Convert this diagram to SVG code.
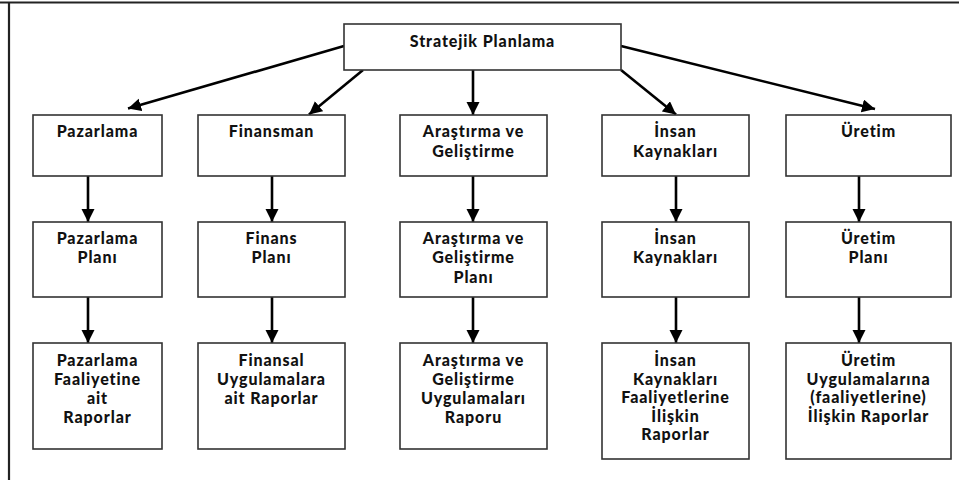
<svg xmlns="http://www.w3.org/2000/svg" width="959" height="480" viewBox="0 0 959 480">
<style>
.box{fill:#fff;stroke:#333;stroke-width:1.6}
.frame{stroke:#222;stroke-width:2.2;fill:none}
.t{font-family:Lato,"Open Sans","Liberation Sans",sans-serif;font-weight:900;font-size:16px;letter-spacing:0.9px;fill:#111;text-anchor:middle}
.c{stroke:#000;stroke-width:2.6;fill:none;marker-end:url(#ah)}
</style>
<defs>
<marker id="ah" markerUnits="userSpaceOnUse" markerWidth="14" markerHeight="14" refX="13" refY="6.5" orient="auto" viewBox="0 0 14 14">
<path d="M0,0 L13,6.5 L0,13 z" fill="#000"/>
</marker>
</defs>
<rect width="959" height="480" fill="#fff"/>
<path class="frame" d="M0,2.5 H959 M9,2.5 V480"/>
<g id="connectors">
<line class="c" x1="344" y1="46" x2="128" y2="108.5"/>
<line class="c" x1="363" y1="70" x2="309" y2="114.5"/>
<line class="c" x1="473" y1="70" x2="473" y2="115"/>
<line class="c" x1="621" y1="70" x2="676" y2="114.5"/>
<line class="c" x1="621" y1="46" x2="875" y2="109"/>
<line class="c" x1="88" y1="176" x2="88" y2="222"/>
<line class="c" x1="272" y1="176" x2="272" y2="222"/>
<line class="c" x1="473" y1="176" x2="473" y2="222"/>
<line class="c" x1="676" y1="176" x2="676" y2="222"/>
<line class="c" x1="859" y1="176" x2="859" y2="222"/>
<line class="c" x1="88" y1="297" x2="88" y2="343"/>
<line class="c" x1="272" y1="297" x2="272" y2="343"/>
<line class="c" x1="473" y1="297" x2="473" y2="343"/>
<line class="c" x1="676" y1="297" x2="676" y2="343"/>
<line class="c" x1="859" y1="297" x2="859" y2="343"/>
</g>
<g id="strateji"><rect class="box" x="344" y="24" width="277" height="46"/><text class="t" x="482.5" y="47">Stratejik Planlama</text></g>
<g id="pazarlama"><rect class="box" x="33" y="115" width="129" height="61"/><text class="t" x="97.5" y="137">Pazarlama</text></g>
<g id="finansman"><rect class="box" x="198" y="115" width="147" height="61"/><text class="t" x="271.5" y="137">Finansman</text></g>
<g id="arge"><rect class="box" x="400" y="115" width="147" height="61"/><text class="t" x="473.5" y="137">Araştırma ve</text><text class="t" x="473.5" y="156.5">Geliştirme</text></g>
<g id="insan"><rect class="box" x="602" y="115" width="147" height="61"/><text class="t" x="675.5" y="137">İnsan</text><text class="t" x="675.5" y="156.5">Kaynakları</text></g>
<g id="uretim"><rect class="box" x="786" y="115" width="165" height="61"/><text class="t" x="868.5" y="137">Üretim</text></g>

<g id="pazarlama-plan"><rect class="box" x="33" y="222" width="129" height="75"/><text class="t" x="97.5" y="243.5">Pazarlama</text><text class="t" x="97.5" y="263">Planı</text></g>
<g id="finans-plan"><rect class="box" x="198" y="222" width="147" height="75"/><text class="t" x="271.5" y="243.5">Finans</text><text class="t" x="271.5" y="263">Planı</text></g>
<g id="arge-plan"><rect class="box" x="400" y="222" width="147" height="75"/><text class="t" x="473.5" y="243.5">Araştırma ve</text><text class="t" x="473.5" y="263">Geliştirme</text><text class="t" x="473.5" y="282.5">Planı</text></g>
<g id="insan-plan"><rect class="box" x="602" y="222" width="147" height="75"/><text class="t" x="675.5" y="243.5">İnsan</text><text class="t" x="675.5" y="263">Kaynakları</text></g>
<g id="uretim-plan"><rect class="box" x="786" y="222" width="165" height="75"/><text class="t" x="868.5" y="243.5">Üretim</text><text class="t" x="868.5" y="263">Planı</text></g>

<g id="pazarlama-rapor"><rect class="box" x="33" y="343" width="129" height="106"/><text class="t" x="97.5" y="365.5">Pazarlama</text><text class="t" x="97.5" y="385">Faaliyetine</text><text class="t" x="97.5" y="404">ait</text><text class="t" x="97.5" y="423">Raporlar</text></g>
<g id="finans-rapor"><rect class="box" x="198" y="343" width="147" height="106"/><text class="t" x="271.5" y="365.5">Finansal</text><text class="t" x="271.5" y="385">Uygulamalara</text><text class="t" x="271.5" y="404">ait Raporlar</text></g>
<g id="arge-rapor"><rect class="box" x="400" y="343" width="147" height="106"/><text class="t" x="473.5" y="365.5">Araştırma ve</text><text class="t" x="473.5" y="385">Geliştirme</text><text class="t" x="473.5" y="404">Uygulamaları</text><text class="t" x="473.5" y="423">Raporu</text></g>
<g id="insan-rapor"><rect class="box" x="602" y="343" width="147" height="116"/><text class="t" x="675.5" y="365.5">İnsan</text><text class="t" x="675.5" y="384.5">Kaynakları</text><text class="t" x="675.5" y="403">Faaliyetlerine</text><text class="t" x="675.5" y="421.5">İlişkin</text><text class="t" x="675.5" y="440">Raporlar</text></g>
<g id="uretim-rapor"><rect class="box" x="786" y="343" width="165" height="116"/><text class="t" x="868.5" y="365.5">Üretim</text><text class="t" x="868.5" y="384.5">Uygulamalarına</text><text class="t" x="868.5" y="403">(faaliyetlerine)</text><text class="t" x="868.5" y="421.5">İlişkin Raporlar</text></g>
</svg>
